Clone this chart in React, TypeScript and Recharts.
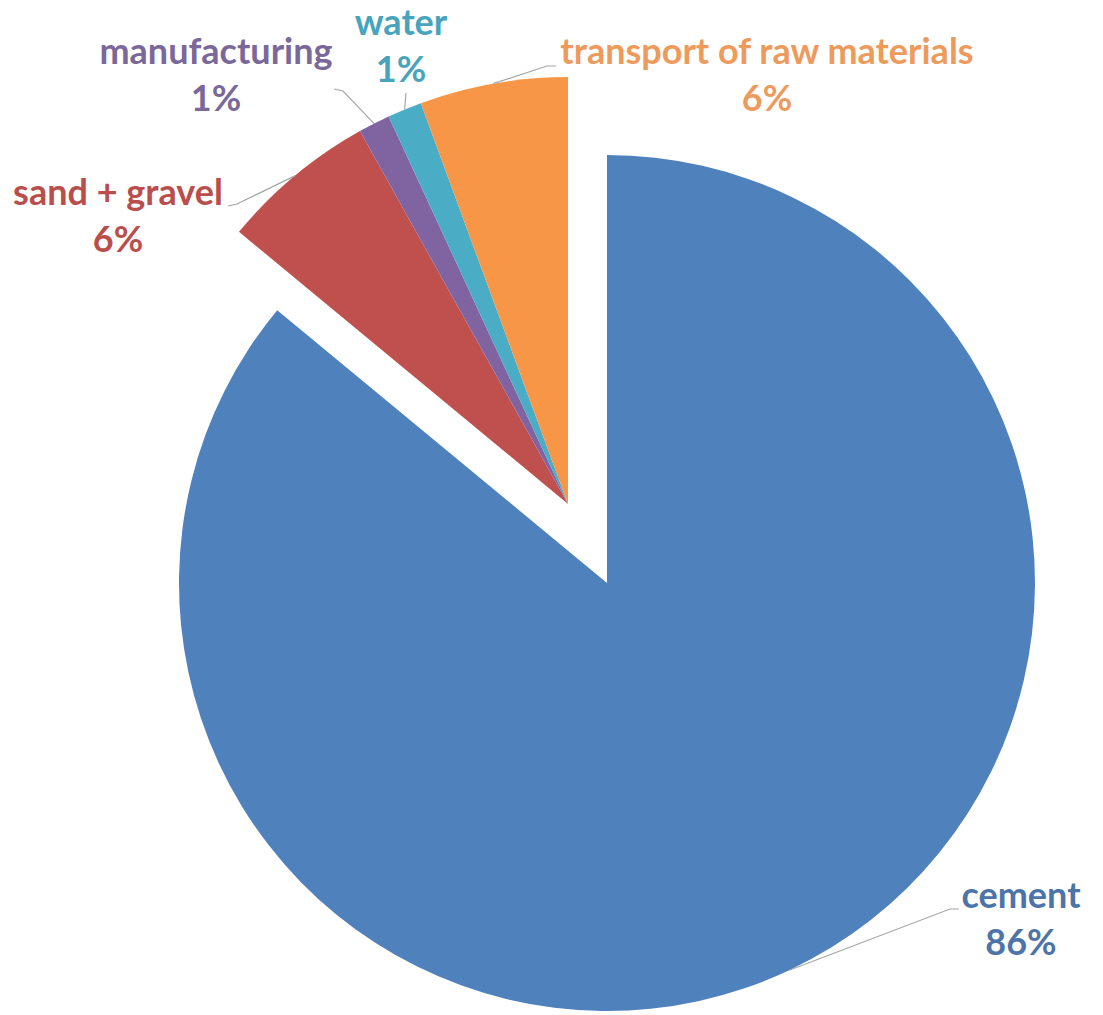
import { PieChart, Pie, Cell } from "recharts";

const categories = ["cement", "sand + gravel", "manufacturing", "water", "transport of raw materials"];
const shares = [86.0, 5.9, 1.2, 1.3, 5.6];
const sliceColors = ["#4F81BD", "#C0504D", "#8064A2", "#4BACC6", "#F79646"];
const textColors = ["#4d74a9", "#b94e4c", "#7a689a", "#47a4bc", "#ee9a5c"];

const data = categories.map((name, i) => ({ name, value: shares[i] }));

// where each label sits (text centre, first baseline) and the leader line bends
const labelLayout = [
  { x: 1021, y: 908, bend: [[950, 909], [959, 909]] },
  { x: 118, y: 205, bend: [[237, 204], [228, 206]] },
  { x: 216, y: 64, bend: [[343, 91], [334, 89]] },
  { x: 401, y: 35, bend: [[406, 93]] },
  { x: 767, y: 64, bend: [[547, 66], [556, 66]] },
];

const RAD = Math.PI / 180;
const FONT = "Lato, 'Open Sans', sans-serif";

function makeLabel(exploded: boolean) {
  return (props: any) => {
    const { cx, cy, midAngle, outerRadius, percent, index } = props;
    if ((index !== 0) !== exploded) return <g />;
    const ax = cx + outerRadius * Math.cos(-midAngle * RAD);
    const ay = cy + outerRadius * Math.sin(-midAngle * RAD);
    const lay = labelLayout[index];
    const pts = [[ax, ay], ...lay.bend].map((p) => p.join(",")).join(" ");
    return (
      <g>
        <polyline points={pts} fill="none" stroke="#a6a6a6" strokeWidth={1.2} />
        <text
          x={lay.x}
          y={lay.y}
          textAnchor="middle"
          fill={textColors[index]}
          fontFamily={FONT}
          fontWeight={700}
          fontSize={36}
        >
          {categories[index]}
        </text>
        <text
          x={lay.x}
          y={lay.y + 47}
          textAnchor="middle"
          fill={textColors[index]}
          fontFamily={FONT}
          fontWeight={700}
          fontSize={36}
        >
          {`${Math.round(percent * 100)}%`}
        </text>
      </g>
    );
  };
}

export default function App() {
  return (
    <div style={{ position: "absolute", left: 0, top: 0, width: 1103, height: 1015, background: "#fff" }}>
      <PieChart width={1103} height={1015} margin={{ top: 0, right: 0, bottom: 0, left: 0 }}>
        {/* main pie: only the cement slice is painted */}
        <Pie
          data={data}
          dataKey="value"
          nameKey="name"
          cx={607}
          cy={583}
          outerRadius={428}
          startAngle={90}
          endAngle={-270}
          stroke="none"
          label={makeLabel(false)}
          labelLine={false}
          isAnimationActive={false}
        >
          {data.map((d, i) => (
            <Cell key={d.name} fill={i === 0 ? sliceColors[i] : "none"} stroke="none" />
          ))}
        </Pie>
        {/* exploded group of the small slices */}
        <Pie
          data={data}
          dataKey="value"
          nameKey="name"
          cx={568}
          cy={504}
          outerRadius={427}
          startAngle={90}
          endAngle={-270}
          stroke="none"
          label={makeLabel(true)}
          labelLine={false}
          isAnimationActive={false}
        >
          {data.map((d, i) => (
            <Cell key={d.name} fill={i === 0 ? "none" : sliceColors[i]} stroke="none" />
          ))}
        </Pie>
      </PieChart>
    </div>
  );
}
